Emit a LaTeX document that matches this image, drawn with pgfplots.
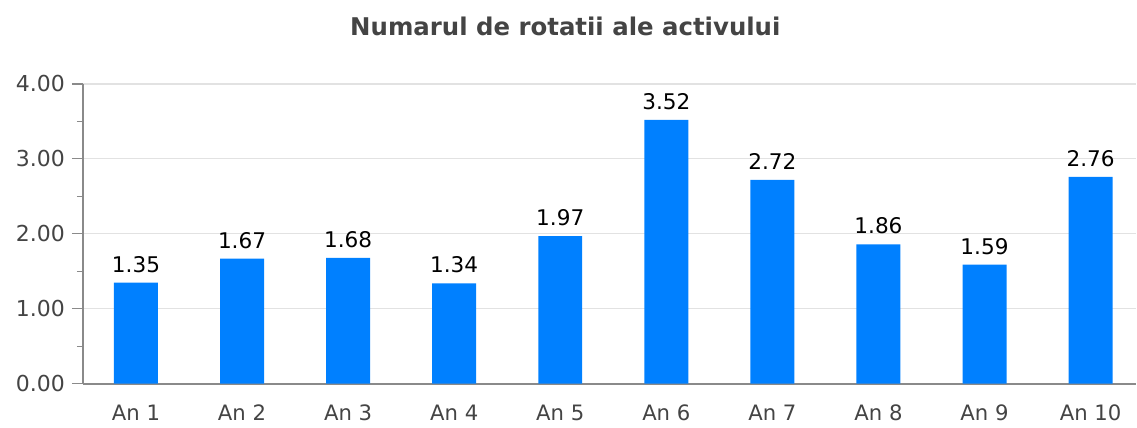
\documentclass[border=0pt]{standalone}
\usepackage{fontspec}
\setmainfont{DejaVu Sans}
\usepackage{pgfplots}
\pgfplotsset{compat=1.18}
\definecolor{barblue}{HTML}{0080FF}
\definecolor{ticktext}{HTML}{444444}
\definecolor{axisgray}{HTML}{8A8A8A}
\definecolor{gridgray}{HTML}{E2E2E2}
\definecolor{titlegray}{HTML}{444444}
\begin{document}
\begin{tikzpicture}
\begin{axis}[
  scale only axis,
  width=527pt, height=150pt,
  xmin=-0.5, xmax=9.43,
  ymin=0, ymax=4,
  ybar, bar width=22pt,
  axis x line=bottom, axis y line=left,
  axis line style={draw=axisgray, line width=0.8pt, -},
  xtick={0,1,2,3,4,5,6,7,8,9},
  xticklabels={An 1,An 2,An 3,An 4,An 5,An 6,An 7,An 8,An 9,An 10},
  major x tick style={draw=none},
  ytick={0,1,2,3,4},
  minor y tick num=1,
  tick align=outside,
  major tick length=5.5pt, minor tick length=3pt,
  y tick style={draw=axisgray, line width=0.6pt},
  ymajorgrids, major grid style={draw=gridgray, line width=0.6pt},
  /pgf/number format/assume math mode=true,
  yticklabel style={/pgf/number format/fixed, /pgf/number format/zerofill, /pgf/number format/precision=2, color=ticktext, font=\fontsize{11}{12}\selectfont},
  xticklabel style={color=ticktext, font=\fontsize{10.6}{12}\selectfont, yshift=-1.5pt},
  nodes near coords,
  nodes near coords style={color=black, yshift=1.5pt, font=\fontsize{10.8}{12}\selectfont, /pgf/number format/fixed, /pgf/number format/zerofill, /pgf/number format/precision=2},
  title={Numarul de rotatii ale activului},
  title style={at={(0.458,1)}, anchor=base, yshift=18pt, color=titlegray, font=\bfseries\fontsize{12.2}{14}\selectfont},
]
\addplot[fill=barblue, draw=none] coordinates {
  (0,1.35) (1,1.67) (2,1.68) (3,1.34) (4,1.97)
  (5,3.52) (6,2.72) (7,1.86) (8,1.59) (9,2.76)
};
\end{axis}
\path[use as bounding box] (-41.5pt,-20pt) rectangle (527pt,192pt);
\end{tikzpicture}
\end{document}
